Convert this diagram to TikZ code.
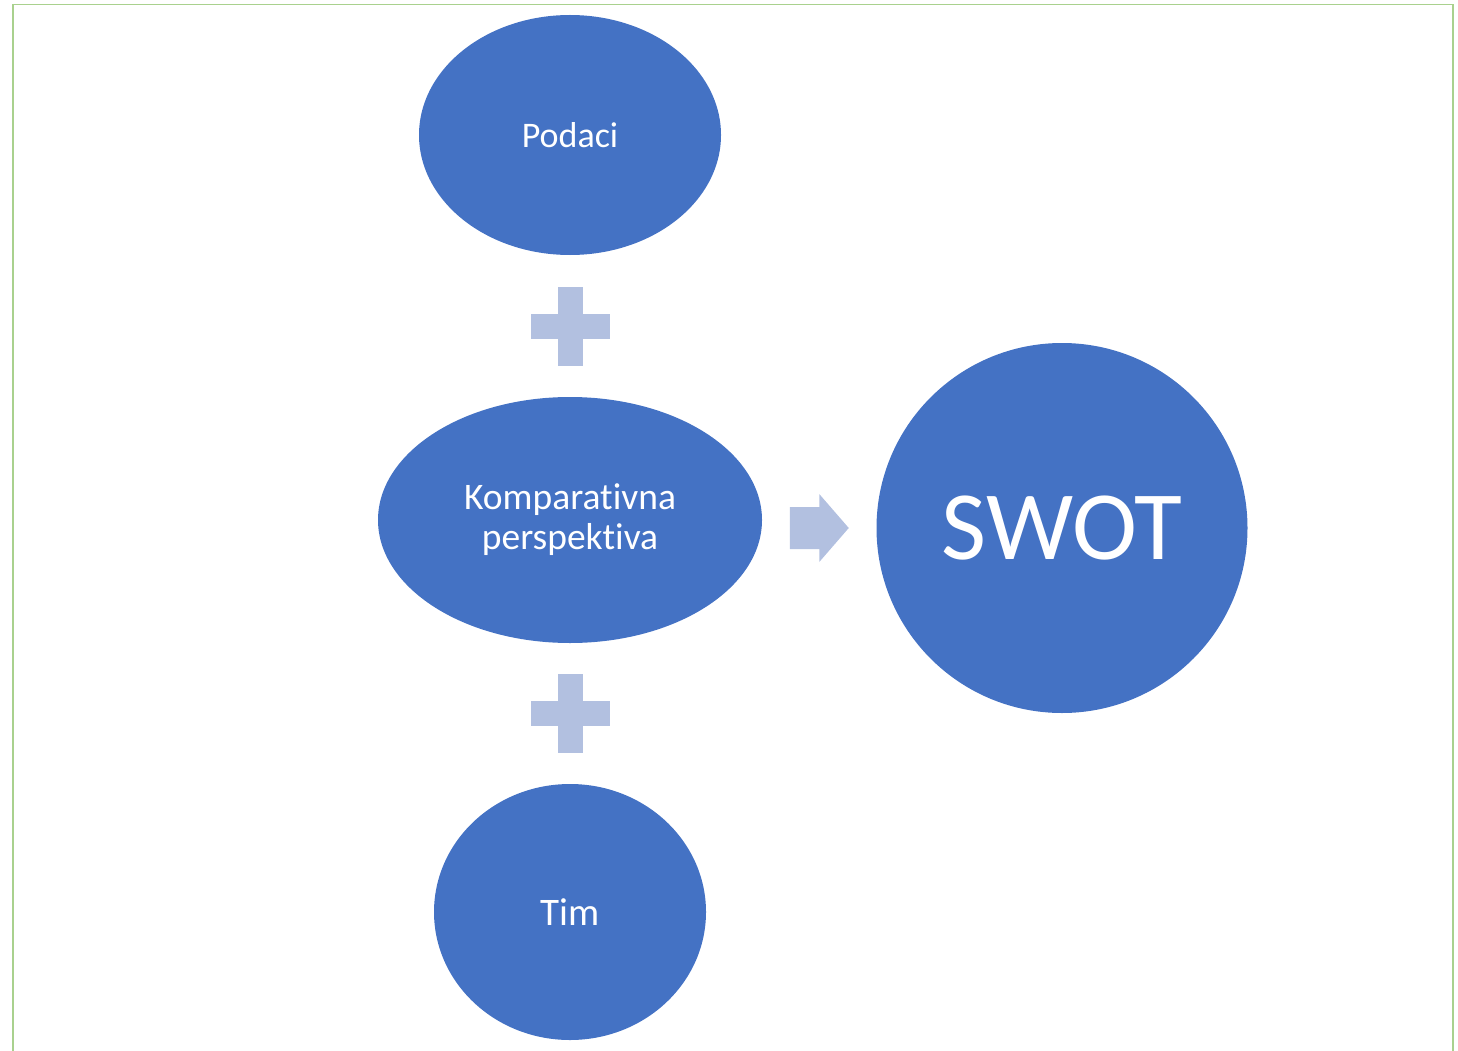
\documentclass[tikz,border=0pt]{standalone}
\usepackage{fontspec}
\setmainfont{Carlito}[Ligatures=NoCommon]
\usetikzlibrary{shapes.geometric,calc}
\definecolor{blob}{RGB}{68,114,196}
\definecolor{soft}{RGB}{178,192,224}
\definecolor{frame}{RGB}{169,209,142}
\tikzset{
  blob/.style={ellipse, fill=blob, text=white, inner sep=0pt, align=center},
  softfill/.style={fill=soft, draw=none}
}
\begin{document}
\begin{tikzpicture}[x=1pt,y=-1pt]
  \useasboundingbox (0,0) rectangle (1458,1051);
  % page frame, open at the bottom
  \draw[frame, line width=1.6pt] (13,1051) -- (13,4.5) -- (1453,4.5) -- (1453,1051);

  % circles
  \node[blob, minimum width=302, minimum height=240, font=\fontsize{36}{40}\selectfont] (pod) at (570,135) {Podaci};
  \node[blob, minimum width=384, minimum height=246, font=\fontsize{37.5}{40}\selectfont] (komp) at (570,520) {Komparativna\\perspektiva};
  \node[blob, minimum width=272, minimum height=256, font=\fontsize{39}{44}\selectfont] (tim) at (570,912) {Tim};
  \node[blob, minimum width=371, minimum height=370, font=\fontsize{98}{110}\selectfont] (swot) at (1062,528) {SWOT};

  % plus signs between the stacked circles
  \coordinate (p1) at ($(pod.south)!0.5!(komp.north)$);
  \coordinate (p2) at ($(komp.south)!0.5!(tim.north)$);
  \foreach \c in {p1,p2}{
    \fill[softfill] ($(\c)+(-12.5,-39.5)$) rectangle ($(\c)+(12.5,39.5)$);
    \fill[softfill] ($(\c)+(-39.5,-12.5)$) rectangle ($(\c)+(39.5,12.5)$);
  }

  % block arrow towards SWOT
  \coordinate (ar) at ($(komp.east)!0.5!(swot.west)$);
  \coordinate (ar) at (ar |- swot.center);
  \fill[softfill] ($(ar)+(-29.5,-21)$) -- ($(ar)+(0,-21)$) -- ($(ar)+(0,-34)$)
    -- ($(ar)+(29.5,0)$) -- ($(ar)+(0,34)$) -- ($(ar)+(0,21)$)
    -- ($(ar)+(-29.5,21)$) -- cycle;
\end{tikzpicture}
\end{document}
